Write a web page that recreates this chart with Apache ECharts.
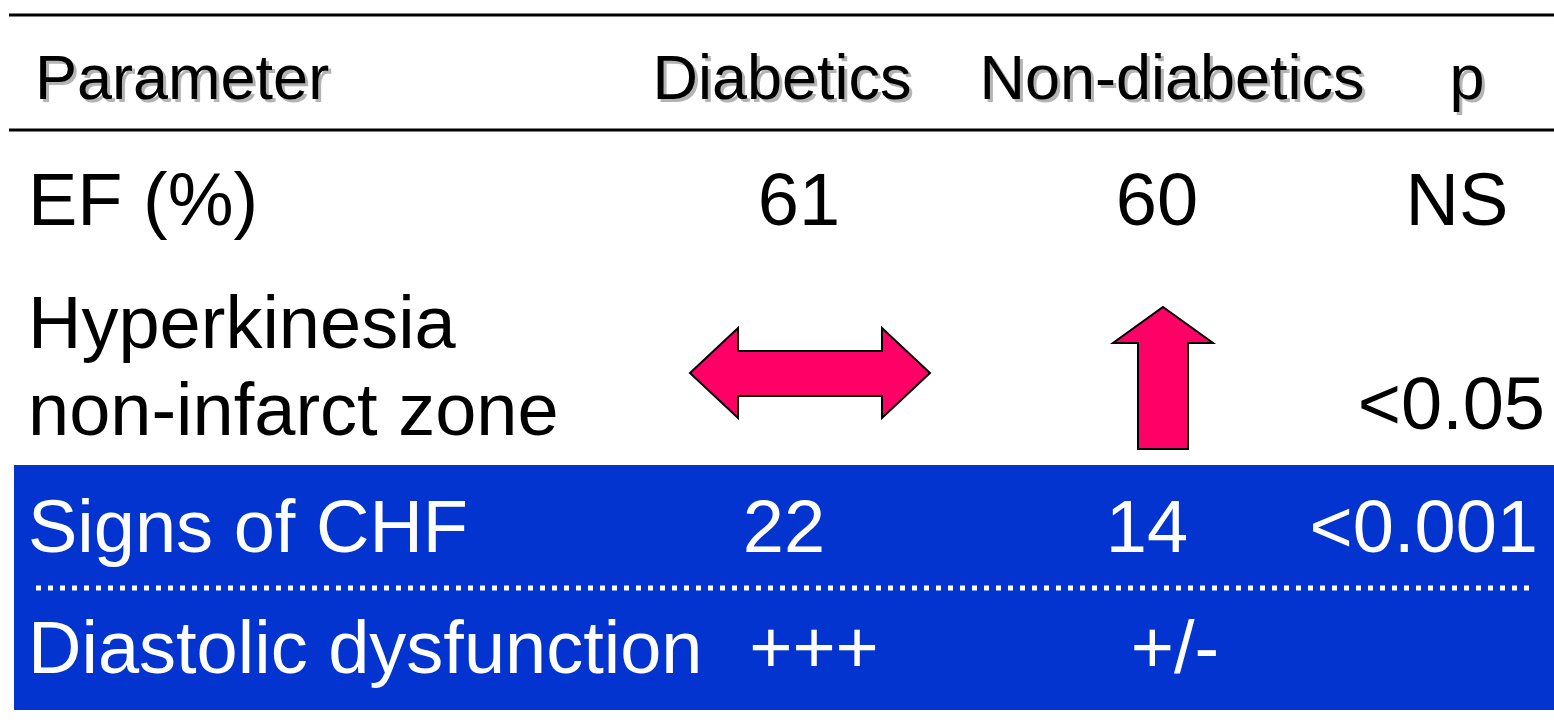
<!DOCTYPE html>
<html style="height: 100%">
  <head>
    <meta charset="utf-8" />
  </head>
  <body style="height: 100%; margin: 0; background: #ffffff">
    <div id="main" style="width: 1554px; height: 723px"></div>
    <script src="https://cdn.jsdelivr.net/npm/echarts@6/dist/echarts.min.js"></script>
    <script>
      // table content
      var headers = ["Parameter", "Diabetics", "Non-diabetics", "p"];
      var rowLabels = [["EF (%)"], ["Hyperkinesia", "non-infarct zone"], ["Signs of CHF"], ["Diastolic dysfunction"]];
      // "arrow-both" / "arrow-up" are drawn as shapes
      var diabetics = ["61", "arrow-both", "22", "+++"];
      var nonDiabetics = ["60", "arrow-up", "14", "+/-"];
      var pValues = ["NS", "<0.05", "<0.001", ""];
      var highlightedRows = [2, 3]; // rows on the blue band

      // layout
      var FONT = "'Liberation Sans', Arial, Helvetica, sans-serif";
      var headerSize = 63, cellSize = 74;
      var headerBaseline = 102;
      var headerX = [35, 782, 1172, 1467];
      var headerAlign = ["left", "center", "center", "center"];
      var rowBaselines = [[228], [351, 438], [555], [676]];
      var labelX = 28;
      var diabX = [799, 810, 784, 814];
      var nonDiabX = [1157, 1163, 1147, 1175];
      var pX = [1457, 1545, 1538, 1500];
      var pAlign = ["center", "right", "right", "right"];
      var arrowY = [0, 373, 0, 0];

      // y of the text middle from its baseline
      function mid(baseline, size) {
        return baseline - size * 0.32;
      }

      function txt(s, x, baseline, size, color, align) {
        return {
          type: "text",
          silent: true,
          style: {
            text: s,
            x: x,
            y: mid(baseline, size),
            font: size + "px " + FONT,
            fill: color,
            align: align,
            verticalAlign: "middle",
          },
        };
      }

      function arrow(kind, cx, cy) {
        var pts;
        if (kind === "arrow-both") {
          pts = [
            [cx - 120, cy], [cx - 72, cy - 45], [cx - 72, cy - 22], [cx + 72, cy - 22], [cx + 72, cy - 45],
            [cx + 120, cy], [cx + 72, cy + 45], [cx + 72, cy + 23], [cx - 72, cy + 23], [cx - 72, cy + 45],
          ];
        } else {
          pts = [
            [cx, 307], [cx + 50, 343], [cx + 25, 343], [cx + 25, 449],
            [cx - 25, 449], [cx - 25, 343], [cx - 50, 343],
          ];
        }
        return {
          type: "polygon",
          silent: true,
          shape: { points: pts },
          style: { fill: "#FF0066", stroke: "#000000", lineWidth: 2 },
        };
      }

      var elements = [];

      // blue band behind the last two rows
      elements.push({
        type: "rect",
        silent: true,
        shape: { x: 14, y: 465, width: 1540, height: 245 },
        style: { fill: "#0334CF" },
      });
      elements.push({
        type: "line",
        silent: true,
        shape: { x1: 36, y1: 588, x2: 1532, y2: 588 },
        style: { stroke: "#ffffff", lineWidth: 5, lineDash: [5, 7] },
      });

      // rules above and below the header
      elements.push({
        type: "line", silent: true,
        shape: { x1: 9, y1: 15, x2: 1554, y2: 15 },
        style: { stroke: "#000000", lineWidth: 3 },
      });
      elements.push({
        type: "line", silent: true,
        shape: { x1: 9, y1: 130, x2: 1554, y2: 130 },
        style: { stroke: "#000000", lineWidth: 3 },
      });

      // header with a grey drop shadow
      headers.forEach(function (h, i) {
        elements.push(txt(h, headerX[i] + 3, headerBaseline + 3, headerSize, "#b4b4b4", headerAlign[i]));
      });
      headers.forEach(function (h, i) {
        elements.push(txt(h, headerX[i], headerBaseline, headerSize, "#000000", headerAlign[i]));
      });

      rowLabels.forEach(function (lines, r) {
        var color = highlightedRows.indexOf(r) >= 0 ? "#ffffff" : "#000000";
        var base = rowBaselines[r];
        lines.forEach(function (s, k) {
          elements.push(txt(s, labelX, base[k], cellSize, color, "left"));
        });
        [[diabetics[r], diabX[r]], [nonDiabetics[r], nonDiabX[r]]].forEach(function (c) {
          if (c[0].indexOf("arrow") === 0) {
            elements.push(arrow(c[0], c[1], arrowY[r]));
          } else {
            elements.push(txt(c[0], c[1], base[0], cellSize, color, "center"));
          }
        });
        if (pValues[r]) {
          var pb = base.length > 1 ? 432 : base[0];
          elements.push(txt(pValues[r], pX[r], pb, cellSize, color, pAlign[r]));
        }
      });

      var chart = echarts.init(document.getElementById("main"));
      var option = {
        backgroundColor: "#ffffff",
        animation: false,
        graphic: { elements: elements },
      };
      chart.setOption(option);
    </script>
  </body>
</html>
